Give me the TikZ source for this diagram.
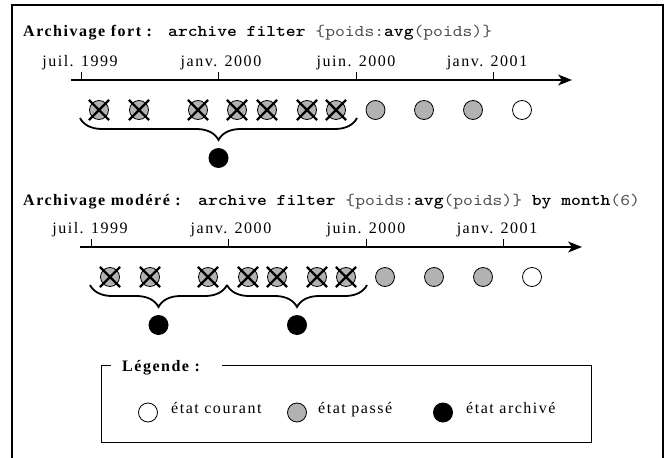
\documentclass[tikz,border=0pt]{standalone}
\usepackage{fontspec}
\setmainfont{Liberation Serif}[LetterSpace=9.5]
\newfontfamily\cmono{lmmono10-regular.otf}[BoldFont=lmmonolt10-bold.otf, FakeStretch=1.14]
\usetikzlibrary{decorations.pathreplacing,arrows.meta,shapes.misc}
\begin{document}
\begin{tikzpicture}[x=1pt,y=-1pt,
  every node/.style={font=\fontsize{16}{19}\selectfont, inner sep=0pt},
  monotext/.style={font=\fontsize{16.4}{19}\selectfont\cmono},
  titletext/.style={font=\fontsize{16}{19}\selectfont\bfseries, anchor=base west},
  datelabel/.style={anchor=base},
  past/.style={circle, draw, line width=0.8pt, fill=black!30, minimum size=19pt},
  current/.style={circle, draw, line width=0.8pt, fill=white, minimum size=19pt},
  archived/.style={circle, fill=black, minimum size=20pt},
  xmark/.style={cross out, draw, line width=2.2pt, minimum size=18pt},
  axisline/.style={line width=1.2pt, -{Stealth[length=14pt,width=11pt,inset=4pt]}},
  tickline/.style={line width=0.9pt},
  bracepath/.style={decorate, decoration={brace, mirror, amplitude=22pt}, line width=1.8pt},
  framepath/.style={line width=2pt},
  legendpath/.style={line width=1pt}
]
\useasboundingbox (0,0) rectangle (668,457);
% outer frame
\coordinate (fbl) at (11.5,458);
\coordinate (ftl) at (11.5,5);
\coordinate (ftr) at (663,5);
\coordinate (fbr) at (663,458);
\draw[framepath] (fbl) -- (ftl) -- (ftr) -- (fbr);

% ---------- section 1 ----------
\node[titletext] (t1) at (23,37) {Archivage fort :};
\node[monotext, anchor=base west] (m1) at (168,37) {\textbf{archive filter} {\color{black!70}\{poids:}\textbf{avg}{\color{black!70}(poids)\}}};
\coordinate (ax1s) at (71,80);
\coordinate (ax1e) at (572,80);
\draw[axisline] (ax1s) -- (ax1e);
\foreach \x/\n in {81/1,218/2,356/3,493/4}{
  \coordinate (k1\n) at (\x,80);
  \coordinate (k1\n t) at (\x,72);
  \draw[tickline] (k1\n) -- (k1\n t);
}
\node[datelabel] (l11) at (80,66.7) {juil. 1999};
\node[datelabel] (l12) at (221,66.7) {janv. 2000};
\node[datelabel] (l13) at (356,66.7) {juin. 2000};
\node[datelabel] (l14) at (487,66.7) {janv. 2001};
\foreach \x/\n in {99/1,139/2,198/3,237/4,267/5,307/6,336/7}{
  \node[past] (a\n) at (\x,110) {};
  \node[xmark] at (a\n) {};
}
\node[past] (p1) at (375.5,110) {};
\node[past] (p2) at (424,110) {};
\node[past] (p3) at (473,110) {};
\node[current] (c1) at (522,110) {};
\coordinate (b1s) at (80,118);
\coordinate (b1e) at (357,118);
\draw[bracepath] (b1s) -- (b1e);
\node[archived] (d1) at (218.5,158) {};

% ---------- section 2 ----------
\node[titletext] (t2) at (23,205) {Archivage modéré :};
\node[monotext, anchor=base west] (m2) at (198,205) {\textbf{archive filter} {\color{black!70}\{poids:}\textbf{avg}{\color{black!70}(poids)\}} \textbf{by month}{\color{black!70}(6)}};
\coordinate (ax2s) at (80,247);
\coordinate (ax2e) at (582,247);
\draw[axisline] (ax2s) -- (ax2e);
\foreach \x/\n in {91/1,228/2,366/3,503/4}{
  \coordinate (k2\n) at (\x,247);
  \coordinate (k2\n t) at (\x,239);
  \draw[tickline] (k2\n) -- (k2\n t);
}
\node[datelabel] (l21) at (90,233.7) {juil. 1999};
\node[datelabel] (l22) at (231,233.7) {janv. 2000};
\node[datelabel] (l23) at (366,233.7) {juin. 2000};
\node[datelabel] (l24) at (497,233.7) {janv. 2001};
\foreach \x/\n in {110/1,150/2,208/3,248/4,277/5,317/6,346/7}{
  \node[past] (b\n) at (\x,277) {};
  \node[xmark] at (b\n) {};
}
\node[past] (q1) at (385,277) {};
\node[past] (q2) at (434,277) {};
\node[past] (q3) at (483,277) {};
\node[current] (c2) at (532,277) {};
\coordinate (b2s) at (90,285);
\coordinate (b2m) at (227,285);
\coordinate (b2e) at (367,285);
\draw[bracepath] (b2s) -- (b2m);
\draw[bracepath] (b2m) -- (b2e);
\node[archived] (e1) at (158.5,325) {};
\node[archived] (e2) at (297,325) {};

% ---------- legend ----------
\coordinate (g1) at (111,365);
\coordinate (g2) at (101,365);
\coordinate (g3) at (101,442);
\coordinate (g4) at (591,442);
\coordinate (g5) at (591,365);
\coordinate (g6) at (222,365);
\draw[legendpath] (g1) -- (g2) -- (g3) -- (g4) -- (g5) -- (g6);
\node[titletext] (lt) at (122,371) {Légende :};
\node[current] (lc) at (148,412.5) {};
\node[anchor=base west] (lct) at (171,413) {état courant};
\node[past] (lp) at (297,412.5) {};
\node[anchor=base west] (lpt) at (318,413) {état passé};
\node[archived] (la) at (443,412.5) {};
\node[anchor=base west] (lat) at (466,413) {état archivé};
\end{tikzpicture}
\end{document}
